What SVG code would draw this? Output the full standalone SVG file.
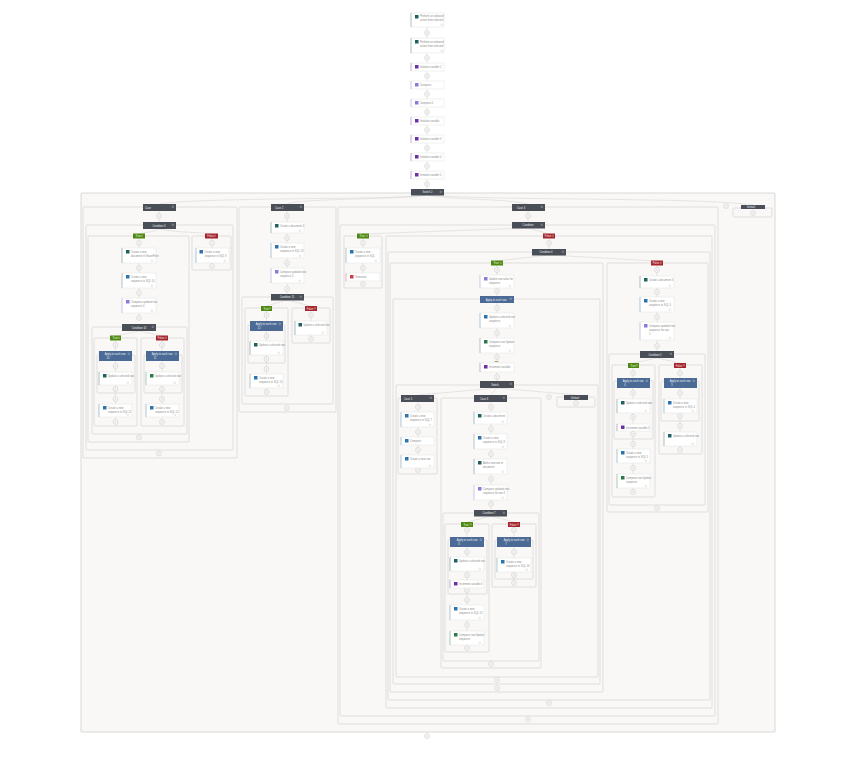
<svg xmlns="http://www.w3.org/2000/svg" width="843" height="765" viewBox="0 0 843 765">
<style>
text{font-family:"Liberation Sans",Arial,sans-serif;font-size:2.600px}
.f{fill:#f9f8f7;stroke:#d6d4d1;stroke-width:.7}
.o{stroke:#d0cfcd;stroke-width:.8}
.n{fill:#fff;stroke:#e2e1df;stroke-width:.5}
.l{fill:#8c8c8c}
.w{fill:#fff;text-anchor:middle;opacity:.9}
.h{fill:#4a4e57}
.a{fill:#4b6b96}
.y{fill:#4f8a10}
.z{fill:#a4262c}
.t{fill:#1f6060}.u{fill:#2b74b0}.p{fill:#6b2fa8}.v{fill:#8b7ade}.r{fill:#c9404a}.g{fill:#2c7a4c}
.c{fill:none;stroke:#d2d1cf;stroke-width:.5}
.ad{fill:#fff;stroke:#b4b3b1;stroke-width:.45}
.bar{fill:none;stroke-width:.6;opacity:.55}
.mk{fill:none;stroke:#c2c1bf;stroke-width:.3}
.hk{fill:none;stroke:#fff;stroke-width:.3;opacity:.7}
</style>
<defs>
<g id="c"><circle r="2.400" class="ad"/><path d="M-1.200 0H1.200M0-1.200V1.200" stroke="#b0afad" stroke-width=".3"/></g>
</defs>
<g id="containers">
<rect class="f o" x="81" y="193" width="694" height="539" rx="1"/>
<rect class="f" x="83" y="207" width="154" height="251" rx="1"/>
<rect class="f" x="86" y="225" width="147" height="225" rx="1"/>
<rect class="f" x="88" y="236" width="101" height="206" rx="1"/>
<rect class="f" x="192" y="236" width="39" height="34" rx="1"/>
<rect class="f" x="92" y="327" width="95" height="107" rx="1"/>
<rect class="f" x="94" y="338" width="43" height="88" rx="1"/>
<rect class="f" x="141" y="338" width="43" height="88" rx="1"/>
<rect class="f" x="97" y="355" width="38" height="38" rx="1"/>
<rect class="f" x="144" y="355" width="38" height="38" rx="1"/>
<rect class="f" x="239" y="207" width="97" height="205" rx="1"/>
<rect class="f" x="242" y="297" width="91" height="107" rx="1"/>
<rect class="f" x="245" y="308" width="43" height="88" rx="1"/>
<rect class="f" x="248" y="325" width="37" height="38" rx="1"/>
<rect class="f" x="292" y="308" width="38" height="35" rx="1"/>
<rect class="f" x="338" y="207" width="380" height="517" rx="1"/>
<rect class="f" x="340" y="225" width="375" height="491" rx="1"/>
<rect class="f" x="344" y="236" width="38" height="52" rx="1"/>
<rect class="f" x="386" y="236" width="326" height="472" rx="1"/>
<rect class="f" x="388" y="252" width="322" height="448" rx="1"/>
<rect class="f" x="390" y="263" width="213" height="429" rx="1"/>
<rect class="f" x="393" y="299" width="207" height="385" rx="1"/>
<rect class="f" x="396" y="385" width="202" height="292" rx="1"/>
<rect class="f" x="398" y="398" width="39" height="76" rx="1"/>
<rect class="f" x="441" y="398" width="100" height="270" rx="1"/>
<rect class="f" x="443" y="513" width="96" height="148" rx="1"/>
<rect class="f" x="445" y="524" width="44" height="128" rx="1"/>
<rect class="f" x="492" y="524" width="44" height="63" rx="1"/>
<rect class="f" x="448" y="540" width="39" height="54" rx="1"/>
<rect class="f" x="495" y="540" width="38" height="39" rx="1"/>
<rect class="f" x="557" y="397" width="38" height="10" rx="1"/>
<rect class="f" x="607" y="263" width="101" height="249" rx="1"/>
<rect class="f" x="609" y="354" width="96" height="151" rx="1"/>
<rect class="f" x="612" y="365" width="43" height="132" rx="1"/>
<rect class="f" x="659" y="365" width="43" height="89" rx="1"/>
<rect class="f" x="614" y="381" width="39" height="58" rx="1"/>
<rect class="f" x="661" y="381" width="38" height="40" rx="1"/>
<rect class="f" x="733" y="208" width="39" height="9" rx="1"/>
</g>
<g id="connectors">
<path class="c" d="M427 27V190M427 195C400 200 200 197 159 204M427 195C400 200 300 198 287 204M427 195C450 200 500 198 528 204M427 195C500 201 700 197 753 205"/>
<path class="c" d="M159 211V222M159 229C150 233 145 232 139 234M159 229C180 233 200 232 212 234M139 238V320M212 238V248M212 263V268M139 331L115 336M139 331L162 336M115.500 340V422M162 340V422"/>
<path class="c" d="M287 211V294M287 300L266 306M287 300L311 306M266.500 310V392M311 310V339"/>
<path class="c" d="M528 211V222M528 228L363 234M528 228L549 234M363 238V284M549 238V249M549 255L497 261M549 255L657 261"/>
<path class="c" d="M497 265V381M497 388L418 395M497 388L491 395M497 388L576 395M418 402V470M491 402V510M491 516L467 522M491 516L514 522M467 527V648M514 527V583"/>
<path class="c" d="M657 265V351M657 358L633 363M657 358L680 363M633 367V492M680 367V450"/>
</g>
<g id="adds">
<use href="#c" x="427" y="33"/><use href="#c" x="427" y="58"/><use href="#c" x="427" y="76"/><use href="#c" x="427" y="94"/><use href="#c" x="427" y="112"/><use href="#c" x="427" y="130"/><use href="#c" x="427" y="148"/><use href="#c" x="427" y="166"/><use href="#c" x="427" y="184"/><use href="#c" x="427" y="736"/>
<use href="#c" x="159" y="216"/><use href="#c" x="139" y="243"/><use href="#c" x="139" y="268"/><use href="#c" x="139" y="293"/><use href="#c" x="139" y="318"/><use href="#c" x="212" y="243"/><use href="#c" x="212" y="266"/><use href="#c" x="139" y="437.500"/><use href="#c" x="159" y="453.500"/>
<use href="#c" x="115.500" y="345"/><use href="#c" x="115.500" y="366"/><use href="#c" x="115.500" y="389"/><use href="#c" x="115.500" y="399"/><use href="#c" x="115.500" y="422"/>
<use href="#c" x="162" y="345"/><use href="#c" x="162" y="366"/><use href="#c" x="162" y="389"/><use href="#c" x="162" y="399"/><use href="#c" x="162" y="422"/>
<use href="#c" x="287" y="216"/><use href="#c" x="287" y="238"/><use href="#c" x="287" y="263"/><use href="#c" x="287" y="289"/><use href="#c" x="287" y="408"/>
<use href="#c" x="266.500" y="315"/><use href="#c" x="266.500" y="336"/><use href="#c" x="266.500" y="359"/><use href="#c" x="266.500" y="369"/><use href="#c" x="266.500" y="392"/><use href="#c" x="311" y="315"/><use href="#c" x="311" y="339"/>
<use href="#c" x="528" y="216"/><use href="#c" x="528" y="719.500"/><use href="#c" x="363" y="243"/><use href="#c" x="363" y="268"/><use href="#c" x="363" y="284"/><use href="#c" x="549" y="243"/><use href="#c" x="549" y="703"/><use href="#c" x="497" y="270"/><use href="#c" x="497" y="291"/><use href="#c" x="497" y="308"/><use href="#c" x="497" y="333"/><use href="#c" x="497" y="357"/><use href="#c" x="497" y="377"/><use href="#c" x="497" y="680"/><use href="#c" x="497" y="688"/>
<use href="#c" x="418" y="407"/><use href="#c" x="418" y="432"/><use href="#c" x="418" y="450"/><use href="#c" x="418" y="470"/>
<use href="#c" x="491" y="407"/><use href="#c" x="491" y="429"/><use href="#c" x="491" y="454"/><use href="#c" x="491" y="479"/><use href="#c" x="491" y="504"/><use href="#c" x="491" y="664"/>
<use href="#c" x="467" y="530"/><use href="#c" x="467" y="552"/><use href="#c" x="467" y="575"/><use href="#c" x="467" y="590"/><use href="#c" x="467" y="600"/><use href="#c" x="467" y="625"/><use href="#c" x="467" y="648"/>
<use href="#c" x="514" y="530"/><use href="#c" x="514" y="552"/><use href="#c" x="514" y="575"/><use href="#c" x="514" y="583"/><use href="#c" x="576" y="403"/><use href="#c" x="549" y="397"/>
<use href="#c" x="657" y="270"/><use href="#c" x="657" y="292"/><use href="#c" x="657" y="317"/><use href="#c" x="657" y="346"/><use href="#c" x="657" y="508"/>
<use href="#c" x="633" y="373"/><use href="#c" x="633" y="393"/><use href="#c" x="633" y="417"/><use href="#c" x="633" y="434"/><use href="#c" x="633" y="444"/><use href="#c" x="633" y="468"/><use href="#c" x="633" y="492"/>
<use href="#c" x="680" y="373"/><use href="#c" x="680" y="393"/><use href="#c" x="680" y="416"/><use href="#c" x="680" y="426"/><use href="#c" x="680" y="450"/>
<use href="#c" x="726" y="206"/><use href="#c" x="753" y="213"/>
</g>

<g id="n01"><rect class="n" x="411" y="13" width="33" height="14"/><rect class="t" x="415" y="15" width="3.500" height="3.500"/><text class="l" x="420" y="17">Perform an unbound</text><text class="l" x="420" y="21">action from selected</text></g>
<g id="n02"><rect class="n" x="411" y="38" width="33" height="15"/><rect class="t" x="415" y="40" width="3.500" height="3.500"/><text class="l" x="420" y="42.500">Perform an unbound</text><text class="l" x="420" y="46.500">action from selected</text></g>
<g id="n03"><rect class="n" x="411" y="63" width="33" height="8"/><rect class="p" x="415" y="65" width="3.500" height="3.500"/><text class="l" x="420" y="68">Initialize variable 2</text></g>
<g id="n04"><rect class="n" x="411" y="81" width="33" height="8"/><rect class="v" x="415" y="83" width="3.500" height="3.500"/><text class="l" x="420" y="86">Compose</text></g>
<g id="n05"><rect class="n" x="411" y="99" width="33" height="8"/><rect class="v" x="415" y="101" width="3.500" height="3.500"/><text class="l" x="420" y="104">Compose 2</text></g>
<g id="n06"><rect class="n" x="411" y="117" width="33" height="8"/><rect class="p" x="415" y="119" width="3.500" height="3.500"/><text class="l" x="420" y="122">Initialize variable</text></g>
<g id="n07"><rect class="n" x="411" y="135" width="33" height="8"/><rect class="p" x="415" y="137" width="3.500" height="3.500"/><text class="l" x="420" y="140">Initialize variable 3</text></g>
<g id="n08"><rect class="n" x="411" y="153" width="33" height="8"/><rect class="p" x="415" y="155" width="3.500" height="3.500"/><text class="l" x="420" y="158">Initialize variable 4</text></g>
<g id="n09"><rect class="n" x="411" y="171" width="33" height="8"/><rect class="p" x="415" y="173" width="3.500" height="3.500"/><text class="l" x="420" y="176">Initialize variable 5</text></g>
<g id="s1"><rect class="h" x="411" y="189" width="33" height="6.500"/><text class="w" x="427.500" y="193.300">Switch 2</text></g>

<g id="s2"><rect class="h" x="143" y="204" width="33" height="7"/><text class="w" x="148" y="208.500">Case</text></g>
<g id="s3"><rect class="h" x="143" y="222" width="33" height="7"/><text class="w" x="159" y="226.500">Condition 3</text></g>
<g id="b1"><rect class="y" x="133" y="233.500" width="12" height="5"/><text class="w" x="138" y="237">True</text></g>
<g id="b2"><rect class="z" x="205" y="233.500" width="13" height="5"/><text class="w" x="210.500" y="237">False</text></g>
<g id="n10"><rect class="n" x="122" y="248" width="34" height="15"/><rect class="t" x="126" y="250" width="3.500" height="3.500"/><text class="l" x="131" y="252.500">Create a new</text><text class="l" x="131" y="256.500">document in SharePoint</text></g>
<g id="n11"><rect class="n" x="122" y="273" width="34" height="15"/><rect class="u" x="126" y="275" width="3.500" height="3.500"/><text class="l" x="131" y="277.500">Create a new</text><text class="l" x="131" y="281.500">sequence in SQL 10</text></g>
<g id="n12"><rect class="n" x="122" y="298" width="34" height="15"/><rect class="v" x="126" y="300" width="3.500" height="3.500"/><text class="l" x="131" y="302.500">Compose updated row</text><text class="l" x="131" y="306.500">sequence 4</text></g>
<g id="n13"><rect class="n" x="196" y="248" width="33" height="15"/><rect class="u" x="199.500" y="250" width="3.500" height="3.500"/><text class="l" x="204.500" y="252.500">Create a new</text><text class="l" x="204.500" y="256.500">sequence in SQL 9</text></g>
<g id="s4"><rect class="h" x="122" y="324" width="34" height="7"/><text class="w" x="139" y="328.500">Condition 10</text></g>
<g id="b3"><rect class="y" x="110" y="335.500" width="11" height="5"/><text class="w" x="115" y="339">True</text></g>
<g id="b4"><rect class="z" x="156" y="335.500" width="12" height="5"/><text class="w" x="161" y="339">False</text></g>
<g id="a1"><rect class="a" x="99" y="351" width="33" height="10"/><text class="w" x="115" y="355">Apply to each row</text><text class="w" x="108" y="359">10</text></g>
<g id="a2"><rect class="a" x="146" y="351" width="33" height="10"/><text class="w" x="162" y="355">Apply to each row</text><text class="w" x="155" y="359">11</text></g>
<g id="n14"><rect class="n" x="99" y="372" width="33" height="13"/><rect class="t" x="103" y="374" width="3.500" height="3.500"/><text class="l" x="108" y="376.500">Update a selected row</text></g>
<g id="n15"><rect class="n" x="146" y="372" width="33" height="13"/><rect class="g" x="150" y="374" width="3.500" height="3.500"/><text class="l" x="155" y="376.500">Update a selected row</text></g>
<g id="n16"><rect class="n" x="99" y="404" width="33" height="13"/><rect class="u" x="103" y="406" width="3.500" height="3.500"/><text class="l" x="108" y="408.500">Create a new</text><text class="l" x="108" y="412.500">sequence in SQL 11</text></g>
<g id="n17"><rect class="n" x="146" y="404" width="33" height="13"/><rect class="u" x="150" y="406" width="3.500" height="3.500"/><text class="l" x="155" y="408.500">Create a new</text><text class="l" x="155" y="412.500">sequence in SQL 12</text></g>

<g id="s5"><rect class="h" x="271" y="204" width="33" height="7"/><text class="w" x="279" y="208.500">Case 2</text></g>
<g id="n18"><rect class="n" x="271" y="222" width="33" height="11"/><rect class="t" x="275" y="224" width="3.500" height="3.500"/><text class="l" x="280" y="226.500">Create a document 2</text></g>
<g id="n19"><rect class="n" x="271" y="243" width="33" height="15"/><rect class="u" x="275" y="245" width="3.500" height="3.500"/><text class="l" x="280" y="247.500">Create a new</text><text class="l" x="280" y="251.500">sequence in SQL 13</text></g>
<g id="n20"><rect class="n" x="271" y="268" width="33" height="15"/><rect class="v" x="275" y="270" width="3.500" height="3.500"/><text class="l" x="280" y="272.500">Compose updated row</text><text class="l" x="280" y="276.500">sequence 5</text></g>
<g id="s6"><rect class="h" x="271" y="294" width="33" height="6.500"/><text class="w" x="287" y="298.300">Condition 15</text></g>
<g id="b5"><rect class="y" x="261" y="306" width="11" height="5"/><text class="w" x="266" y="309.500">True</text></g>
<g id="b6"><rect class="z" x="305" y="306" width="12" height="5"/><text class="w" x="310" y="309.500">False</text></g>
<g id="a3"><rect class="a" x="250" y="321" width="33" height="10"/><text class="w" x="266" y="325">Apply to each row</text><text class="w" x="259" y="329">12</text></g>
<g id="n21"><rect class="n" x="250" y="341" width="33" height="14"/><rect class="t" x="254" y="343" width="3.500" height="3.500"/><text class="l" x="259" y="345.500">Update a selected row</text></g>
<g id="n22"><rect class="n" x="250" y="374" width="33" height="14"/><rect class="u" x="254" y="376" width="3.500" height="3.500"/><text class="l" x="259" y="378.500">Create a new</text><text class="l" x="259" y="382.500">sequence in SQL 14</text></g>
<g id="n23"><rect class="n" x="295" y="321" width="32" height="14"/><rect class="t" x="298.500" y="323" width="3.500" height="3.500"/><text class="l" x="303.500" y="325.500">Update a selected row</text></g>

<g id="s7"><rect class="h" x="512" y="204" width="33" height="7"/><text class="w" x="521" y="208.500">Case 3</text></g>
<g id="s8"><rect class="h" x="512" y="222" width="33" height="6.500"/><text class="w" x="528" y="226.300">Condition</text></g>
<g id="b7"><rect class="y" x="357" y="233.500" width="12" height="5"/><text class="w" x="362" y="237">True</text></g>
<g id="b8"><rect class="z" x="543" y="233.500" width="12" height="5"/><text class="w" x="548" y="237">False</text></g>
<g id="n24"><rect class="n" x="346" y="248" width="34" height="15"/><rect class="u" x="350" y="250" width="3.500" height="3.500"/><text class="l" x="355" y="252.500">Create a new</text><text class="l" x="355" y="256.500">sequence in SQL</text></g>
<g id="n25"><rect class="n" x="346" y="273" width="34" height="8"/><rect class="r" x="350" y="275" width="3.500" height="3.500"/><text class="l" x="355" y="278">Terminate</text></g>
<g id="s9"><rect class="h" x="532" y="249" width="34" height="6.500"/><text class="w" x="546" y="253.300">Condition 4</text></g>
<g id="b9"><rect class="y" x="491" y="260.500" width="12" height="5"/><text class="w" x="496" y="264">True</text></g>
<g id="b10"><rect class="z" x="651" y="260.500" width="12" height="5"/><text class="w" x="656" y="264">False</text></g>
<g id="n26"><rect class="n" x="480" y="275" width="34" height="13"/><rect class="v" x="484" y="277" width="3.500" height="3.500"/><text class="l" x="489" y="279.500">Update row value for</text><text class="l" x="489" y="283.500">sequence</text></g>
<g id="a4"><rect class="a" x="480" y="296" width="34" height="7"/><text class="w" x="496" y="300.500">Apply to each row</text></g>
<g id="n27"><rect class="n" x="480" y="313" width="34" height="15"/><rect class="u" x="484" y="315" width="3.500" height="3.500"/><text class="l" x="489" y="317.500">Update a selected row</text><text class="l" x="489" y="321.500">sequence</text></g>
<g id="n28"><rect class="n" x="480" y="338" width="34" height="15"/><rect class="g" x="484" y="340" width="3.500" height="3.500"/><text class="l" x="489" y="342.500">Compose row Update</text><text class="l" x="489" y="346.500">sequence</text></g>
<g id="n29"><rect class="n" x="480" y="363" width="34" height="9"/><rect class="p" x="484" y="365" width="3.500" height="3.500"/><text class="l" x="489" y="368">Increment variable</text><rect x="494.500" y="361.200" width="4" height=".8" fill="#8a9a60"/></g>
<g id="s10"><rect class="h" x="480" y="381" width="34" height="7"/><text class="w" x="495" y="385.500">Switch</text></g>
<g id="s11"><rect class="h" x="401" y="395" width="33" height="7"/><text class="w" x="408" y="399.500">Case 5</text></g>
<g id="s12"><rect class="h" x="474" y="395" width="33" height="7"/><text class="w" x="484" y="399.500">Case 6</text></g>
<g id="s13"><rect class="h" x="564" y="395" width="24" height="5"/><text class="w" x="575" y="398.500">Default</text></g>
<g id="n30"><rect class="n" x="401" y="412" width="33" height="15"/><rect class="u" x="405" y="414" width="3.500" height="3.500"/><text class="l" x="410" y="416.500">Create a new</text><text class="l" x="410" y="420.500">sequence in SQL 7</text></g>
<g id="n31"><rect class="n" x="401" y="437" width="33" height="8"/><rect class="u" x="405" y="439" width="3.500" height="3.500"/><text class="l" x="410" y="442">Compose</text></g>
<g id="n32"><rect class="n" x="401" y="455" width="33" height="13"/><rect class="u" x="405" y="457" width="3.500" height="3.500"/><text class="l" x="410" y="460">Create a new row</text></g>
<g id="n33"><rect class="n" x="474" y="412" width="33" height="12"/><rect class="t" x="478" y="414" width="3.500" height="3.500"/><text class="l" x="483" y="417">Create a document</text></g>
<g id="n34"><rect class="n" x="474" y="434" width="33" height="15"/><rect class="u" x="478" y="436" width="3.500" height="3.500"/><text class="l" x="483" y="438.500">Create a new</text><text class="l" x="483" y="442.500">sequence in SQL 8</text></g>
<g id="n35"><rect class="n" x="474" y="459" width="33" height="15"/><rect class="t" x="478" y="461" width="3.500" height="3.500"/><text class="l" x="483" y="463.500">Add a new row to</text><text class="l" x="483" y="467.500">document</text></g>
<g id="n36"><rect class="n" x="474" y="485" width="33" height="15"/><rect class="v" x="478" y="487" width="3.500" height="3.500"/><text class="l" x="483" y="489.500">Compose updated row</text><text class="l" x="483" y="493.500">sequence for row 3</text></g>
<g id="s14"><rect class="h" x="474" y="510" width="33" height="6.500"/><text class="w" x="489" y="514.300">Condition 7</text></g>
<g id="b11"><rect class="y" x="461" y="522" width="12" height="5"/><text class="w" x="466" y="525.500">True</text></g>
<g id="b12"><rect class="z" x="508" y="522" width="12" height="5"/><text class="w" x="513" y="525.500">False</text></g>
<g id="a5"><rect class="a" x="450" y="537" width="34" height="10"/><text class="w" x="467" y="541">Apply to each row</text><text class="w" x="459" y="545">6</text></g>
<g id="a6"><rect class="a" x="497" y="537" width="34" height="10"/><text class="w" x="514" y="541">Apply to each row</text><text class="w" x="506" y="545">7</text></g>
<g id="n37"><rect class="n" x="450" y="557" width="34" height="14"/><rect class="t" x="454" y="559" width="3.500" height="3.500"/><text class="l" x="459" y="562">Update a selected row</text></g>
<g id="n38"><rect class="n" x="450" y="580" width="34" height="8"/><rect class="p" x="454" y="582" width="3.500" height="3.500"/><text class="l" x="459" y="585">Increment variable 3</text></g>
<g id="n39"><rect class="n" x="450" y="605" width="34" height="15"/><rect class="u" x="454" y="607" width="3.500" height="3.500"/><text class="l" x="459" y="609.500">Create a new</text><text class="l" x="459" y="613.500">sequence in SQL 15</text></g>
<g id="n40"><rect class="n" x="450" y="631" width="34" height="14"/><rect class="g" x="454" y="633" width="3.500" height="3.500"/><text class="l" x="459" y="635.500">Compose row Update</text><text class="l" x="459" y="639.500">sequence</text></g>
<g id="n41"><rect class="n" x="497" y="558" width="34" height="14"/><rect class="u" x="501" y="560" width="3.500" height="3.500"/><text class="l" x="506" y="562.500">Create a new</text><text class="l" x="506" y="566.500">sequence in SQL 16</text></g>

<g id="n42"><rect class="n" x="640" y="276" width="34" height="12"/><rect class="t" x="644" y="278" width="3.500" height="3.500"/><text class="l" x="649" y="280.500">Create a document 3</text></g>
<g id="n43"><rect class="n" x="640" y="297" width="34" height="15"/><rect class="u" x="644" y="299" width="3.500" height="3.500"/><text class="l" x="649" y="301.500">Create a new</text><text class="l" x="649" y="305.500">sequence in SQL 3</text></g>
<g id="n44"><rect class="n" x="640" y="322" width="34" height="18"/><rect class="v" x="644" y="324" width="3.500" height="3.500"/><text class="l" x="649" y="326.500">Compose updated row</text><text class="l" x="649" y="330.500">sequence for row</text><text class="l" x="649" y="334.500">2</text></g>
<g id="s15"><rect class="h" x="640" y="351" width="34" height="7"/><text class="w" x="655" y="355.500">Condition 5</text></g>
<g id="b13"><rect class="y" x="628" y="363" width="11" height="5"/><text class="w" x="633" y="366.500">True</text></g>
<g id="b14"><rect class="z" x="674" y="363" width="12" height="5"/><text class="w" x="679" y="366.500">False</text></g>
<g id="a7"><rect class="a" x="617" y="378" width="33" height="10"/><text class="w" x="633" y="382">Apply to each row</text><text class="w" x="625" y="386">4</text></g>
<g id="a8"><rect class="a" x="664" y="378" width="33" height="10"/><text class="w" x="680" y="382">Apply to each row</text><text class="w" x="672" y="386">5</text></g>
<g id="n45"><rect class="n" x="617" y="399" width="33" height="14"/><rect class="t" x="621" y="401" width="3.500" height="3.500"/><text class="l" x="626" y="403.500">Update a selected row</text></g>
<g id="n46"><rect class="n" x="617" y="424" width="33" height="7"/><rect class="p" x="621" y="425.500" width="3.500" height="3.500"/><text class="l" x="626" y="428.500">Increment variable 2</text></g>
<g id="n47"><rect class="n" x="617" y="449" width="33" height="14"/><rect class="u" x="621" y="451" width="3.500" height="3.500"/><text class="l" x="626" y="453.500">Create a new</text><text class="l" x="626" y="457.500">sequence in SQL 5</text></g>
<g id="n48"><rect class="n" x="617" y="474" width="33" height="14"/><rect class="g" x="621" y="476" width="3.500" height="3.500"/><text class="l" x="626" y="478.500">Compose row Update</text><text class="l" x="626" y="482.500">sequence</text></g>
<g id="n49"><rect class="n" x="664" y="399" width="33" height="14"/><rect class="u" x="668" y="401" width="3.500" height="3.500"/><text class="l" x="673" y="403.500">Create a new</text><text class="l" x="673" y="407.500">sequence in SQL 4</text></g>
<g id="n50"><rect class="n" x="664" y="432" width="33" height="14"/><rect class="t" x="668" y="434" width="3.500" height="3.500"/><text class="l" x="673" y="436.500">Update a selected row</text></g>

<g id="s16"><rect class="h" x="741" y="205" width="24" height="4"/><text class="w" x="751" y="208">Default</text></g>

<g id="accents">
<path class="bar" stroke="#1f6060" d="M411 13v14M411 38v15M122 248v15M99 372v13M271 222v11M250 341v14M295 321v14M474 412v12M474 459v15M450 557v14M640 276v12M617 399v14M664 432v14"/>
<path class="bar" stroke="#2b74b0" d="M122 273v15M196 248v15M99 404v13M146 404v13M271 243v15M250 374v14M346 248v15M480 313v15M401 412v15M401 437v8M401 455v13M474 434v15M450 605v15M497 558v14M640 297v15M617 449v14M664 399v14"/>
<path class="bar" stroke="#8b7ade" d="M411 81v8M411 99v8M122 298v15M271 268v15M480 275v13M474 485v15M640 322v18"/>
<path class="bar" stroke="#6b2fa8" d="M411 63v8M411 117v8M411 135v8M411 153v8M411 171v8M480 363v9M450 580v8M617 424v7"/>
<path class="bar" stroke="#2c7a4c" d="M146 372v13M480 338v15M450 631v14M617 474v14"/>
<path class="bar" stroke="#c9404a" d="M346 273v8"/>
<path class="mk" d="M441 24h1.500v1.500h-1.500zM441 50h1.500v1.500h-1.500zM151 260h1.500v1.500h-1.500zM151 285h1.500v1.500h-1.500zM151 310h1.500v1.500h-1.500zM224 260h1.500v1.500h-1.500zM127 382h1.500v1.500h-1.500zM174 382h1.500v1.500h-1.500zM127 414h1.500v1.500h-1.500zM174 414h1.500v1.500h-1.500zM299 230h1.500v1.500h-1.500zM299 255h1.500v1.500h-1.500zM299 280h1.500v1.500h-1.500zM278 352h1.500v1.500h-1.500zM278 385h1.500v1.500h-1.500zM322 332h1.500v1.500h-1.500zM375 260h1.500v1.500h-1.500zM509 285h1.500v1.500h-1.500zM509 325h1.500v1.500h-1.500zM509 350h1.500v1.500h-1.500zM429 424h1.500v1.500h-1.500zM429 465h1.500v1.500h-1.500zM502 421h1.500v1.500h-1.500zM502 446h1.500v1.500h-1.500zM502 471h1.500v1.500h-1.500zM502 497h1.500v1.500h-1.500zM479 568h1.500v1.500h-1.500zM479 617h1.500v1.500h-1.500zM479 642h1.500v1.500h-1.500zM526 569h1.500v1.500h-1.500zM669 285h1.500v1.500h-1.500zM669 309h1.500v1.500h-1.500zM669 337h1.500v1.500h-1.500zM645 410h1.500v1.500h-1.500zM645 460h1.500v1.500h-1.500zM645 485h1.500v1.500h-1.500zM692 410h1.500v1.500h-1.500zM692 443h1.500v1.500h-1.500z"/>
<path class="hk" d="M440 191h1.500v1.500h-1.500zM172 206h1.500v1.500h-1.500zM172 224h1.500v1.500h-1.500zM152 326h1.500v1.500h-1.500zM300 206h1.500v1.500h-1.500zM300 296h1.500v1.500h-1.500zM541 206h1.500v1.500h-1.500zM541 224h1.500v1.500h-1.500zM562 251h1.500v1.500h-1.500zM510 383h1.500v1.500h-1.500zM430 397h1.500v1.500h-1.500zM503 397h1.500v1.500h-1.500zM503 512h1.500v1.500h-1.500zM670 353h1.500v1.500h-1.500zM128 353h1.500v1.500h-1.500zM175 353h1.500v1.500h-1.500zM279 323h1.500v1.500h-1.500zM510 298h1.500v1.500h-1.500zM480 539h1.500v1.500h-1.500zM527 539h1.500v1.500h-1.500zM646 380h1.500v1.500h-1.500zM693 380h1.500v1.500h-1.500zM141 235h1.500v1.500h-1.500zM214 235h1.500v1.500h-1.500zM118 337h1.500v1.500h-1.500zM165 337h1.500v1.500h-1.500zM269 307.500h1.500v1.500h-1.500zM314 307.500h1.500v1.500h-1.500zM366 235h1.500v1.500h-1.500zM552 235h1.500v1.500h-1.500zM500 262h1.500v1.500h-1.500zM660 262h1.500v1.500h-1.500zM470 523.500h1.500v1.500h-1.500zM517 523.500h1.500v1.500h-1.500zM636 364.500h1.500v1.500h-1.500zM683 364.500h1.500v1.500h-1.500z"/>
</g>
</svg>
